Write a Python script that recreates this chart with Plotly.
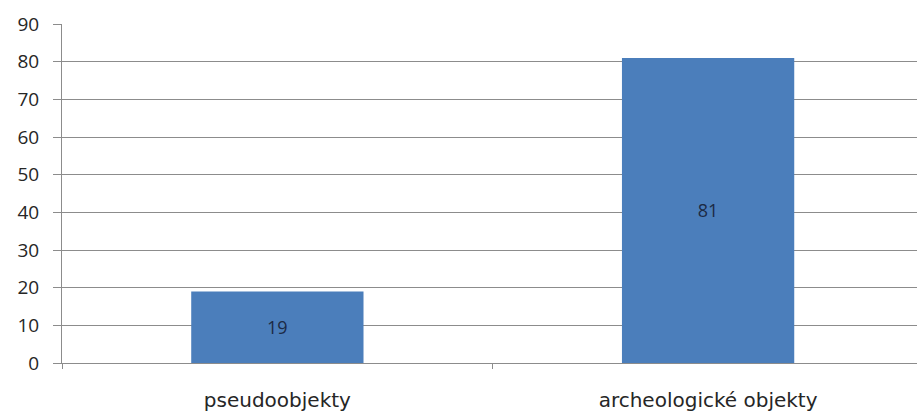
import plotly.graph_objects as go

# Category counts
categories = ["pseudoobjekty", "archeologické objekty"]
values = [19, 81]
y_ticks = [0, 10, 20, 30, 40, 50, 60, 70, 80, 90]

grid = "#8c8c8c"
font_family = "Open Sans, Noto Sans, sans-serif"

fig = go.Figure(
    go.Bar(
        x=categories,
        y=values,
        width=0.4,
        marker=dict(color="#4b7ebb", line=dict(width=0)),
        text=[str(v) for v in values],
        textposition="inside",
        insidetextanchor="middle",
        textfont=dict(family=font_family, size=18, color="#1c2a45"),
        hoverinfo="skip",
    )
)

fig.update_layout(
    width=917,
    height=412,
    margin=dict(l=62, r=0, t=24, b=49),
    paper_bgcolor="white",
    plot_bgcolor="white",
    showlegend=False,
    font=dict(family=font_family, size=18, color="#262626"),
)

fig.update_xaxes(
    type="category",
    range=[-0.5, 1.485],
    showgrid=False,
    showline=True,
    linecolor=grid,
    linewidth=1,
    ticks="outside",
    tickson="boundaries",
    ticklen=5,
    tickcolor=grid,
    ticklabelstandoff=19,
    tickfont=dict(family="DejaVu Sans, sans-serif", size=20, color="#262626"),
)

fig.update_yaxes(
    range=[0, 90],
    tickvals=y_ticks,
    showgrid=True,
    gridcolor=grid,
    gridwidth=1,
    zeroline=False,
    showline=True,
    linecolor=grid,
    linewidth=1,
    ticks="outside",
    ticklen=8,
    tickcolor=grid,
    ticklabelstandoff=10,
    tickfont=dict(size=19, color="#262626"),
)

fig.write_html("out.html")
